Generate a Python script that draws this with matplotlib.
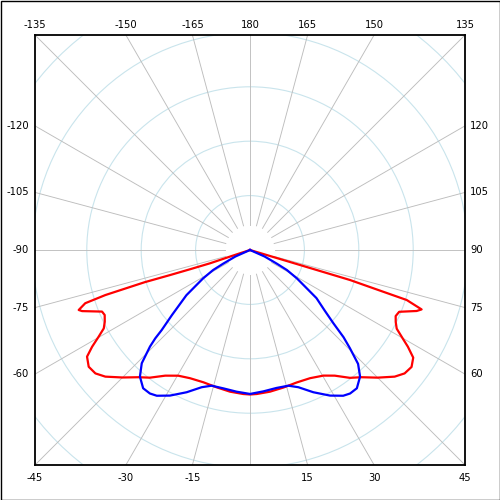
import numpy as np
import matplotlib
matplotlib.use("Agg")
import matplotlib.pyplot as plt
from matplotlib.patches import Rectangle, Circle

# ---- data (angle in degrees, 0 = straight down, positive to the right) ----
red_angles = [-72.0, -71.8, -71.6, -72.2, -72.6, -73.0, -72.7, -72.1, -70.7, -70.0,
              -67.4, -65.9, -63.7, -61.8, -60.2, -58.5, -56.8, -54.1, -51.4, -48.8,
              -45.0, -41.2, -38.1, -34.0, -29.7, -25.1, -19.4, -13.6, -8.0, -2.7,
              0.0,
              2.7, 8.0, 13.6, 19.4, 25.1, 30.3, 34.0, 38.0, 41.2, 45.0,
              48.8, 51.4, 54.1, 56.6, 58.5, 60.0, 61.8, 63.7, 65.6, 67.5,
              69.9, 70.9, 72.3, 72.6, 73.3, 73.3, 73.3, 73.0]
red_values = [0.0, 18.4, 38.6, 57.9, 77.2, 101.1, 139.2, 159.1, 166.8, 164.2,
              147.3, 146.3, 148.9, 152.5, 160.3, 170.2, 179.0, 183.0, 181.8, 176.7,
              165.7, 155.4, 149.1, 139.3, 133.0, 130.1, 128.9, 129.9, 131.5, 132.5,
              132.8,
              132.5, 131.5, 130.1, 129.1, 130.1, 133.7, 139.3, 149.1, 155.4, 165.9,
              176.7, 181.8, 183.3, 179.7, 170.2, 161.8, 153.0, 149.4, 147.0, 148.4,
              163.1, 166.9, 151.2, 128.4, 95.9, 64.0, 32.0, 0.0]

blue_angles = [-68.0, -66.0, -63.0, -61.5, -58.8, -54.6, -50.2, -47.8, -47.0, -46.0,
               -43.7, -41.0, -37.7, -34.9, -32.6, -28.8, -24.0, -19.4, -15.8, -10.9,
               -5.4, 0.0, 5.4, 10.9, 15.8, 19.4, 24.0, 28.8, 32.6, 34.9, 37.7,
               41.0, 43.5, 45.5, 47.0, 48.7, 51.0, 54.1, 58.8, 61.5, 63.0, 66.0, 68.0]
blue_values = [0.0, 14.7, 27.6, 38.6, 50.5, 71.7, 93.3, 109.6, 119.0, 127.8,
               144.0, 154.2, 160.6, 160.8, 159.0, 152.7, 143.1, 133.7, 129.6, 129.5,
               130.8, 132.3, 130.5, 129.1, 129.6, 133.7, 143.1, 152.7, 159.0, 160.8, 160.6,
               154.2, 144.3, 128.7, 117.6, 102.0, 88.2, 75.4, 50.5, 38.6, 27.6, 14.7, 0.0]

circle_values = [50, 100, 150, 200, 250]
spoke_angles = list(range(0, 360, 15))
top_labels = [-135, -150, -165, 180, 165, 150, 135]
left_labels = [-120, -105, -90, -75, -60]
right_labels = [120, 105, 90, 75, 60]
bottom_labels = [-45, -30, -15, 15, 30, 45]

H = 197.6          # half-width of the square plot box in data units
INNER = 23.0       # spokes start here

fig = plt.figure(figsize=(5, 5), dpi=100)
ax = fig.add_axes([0.07, 0.07, 0.86, 0.86])
ax.set_xlim(-H, H)
ax.set_ylim(-H, H)
ax.set_aspect('equal')
ax.set_xticks([])
ax.set_yticks([])
for s in ax.spines.values():
    s.set_linewidth(1.3)
    s.set_color('black')
    s.set_zorder(10)


def to_xy(a_deg, r):
    a = np.deg2rad(np.asarray(a_deg, dtype=float))
    r = np.asarray(r, dtype=float)
    return r * np.sin(a), -r * np.cos(a)


# circles
for cv in circle_values:
    ax.add_patch(Circle((0, 0), cv, fill=False, edgecolor='#c9e4ec', lw=0.8, zorder=1))

# spokes
for a in spoke_angles:
    x, y = to_xy([a, a], [INNER, 400])
    ax.plot(x, y, color='#bdbdbd', lw=0.65, zorder=2)

# curves
rx, ry = to_xy(red_angles, red_values)
ax.plot(rx, ry, color='#ff0000', lw=1.6, zorder=5, solid_joinstyle='round')
bx, by = to_xy(blue_angles, blue_values)
ax.plot(bx, by, color='#0000ff', lw=1.6, zorder=6, solid_joinstyle='round')


def edge_point(a):
    dx, dy = to_xy(a, 1.0)
    t = H / max(abs(dx), abs(dy))
    return dx * t, dy * t


fs = 7.2
for a in top_labels:
    x, y = edge_point(a)
    ax.annotate(str(a), (x, H), xytext=(0, 7.5), textcoords='offset points',
                ha='center', va='center', fontsize=fs, annotation_clip=False)
for a in bottom_labels:
    x, y = edge_point(a)
    ax.annotate(str(a), (x, -H), xytext=(0, -9.5), textcoords='offset points',
                ha='center', va='center', fontsize=fs, annotation_clip=False)
for a in left_labels:
    x, y = edge_point(a)
    ax.annotate(str(a), (-H, y), xytext=(-4.5, 0), textcoords='offset points',
                ha='right', va='center', fontsize=fs, annotation_clip=False)
for a in right_labels:
    x, y = edge_point(a)
    ax.annotate(str(a), (H, y), xytext=(3.8, 0), textcoords='offset points',
                ha='left', va='center', fontsize=fs, annotation_clip=False)

# outer image border
fig.patches.append(Rectangle((0.001, 0.001), 0.998, 0.998, transform=fig.transFigure,
                             fill=False, edgecolor='black', lw=1.0))

fig.savefig('out.png', dpi=100, facecolor='white')
